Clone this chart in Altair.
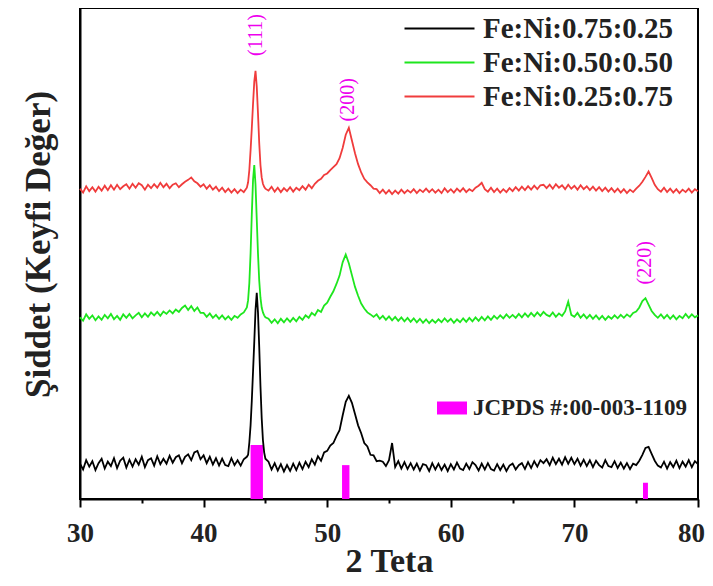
import altair as alt
import pandas as pd

# 2-theta sampling positions (degrees)
two_theta = [
    30.0, 30.25, 30.5, 30.75, 31.0, 31.25, 31.5, 31.75, 32.0, 32.25, 32.5, 32.75,
    33.0, 33.25, 33.5, 33.75, 34.0, 34.25, 34.5, 34.75, 35.0, 35.25, 35.5, 35.75,
    36.0, 36.25, 36.5, 36.75, 37.0, 37.25, 37.5, 37.75, 38.0, 38.25, 38.5, 38.75,
    39.0, 39.25, 39.5, 39.75, 40.0, 40.25, 40.5, 40.75, 41.0, 41.25, 41.5, 41.75,
    42.0, 42.25, 42.5, 42.75, 43.0, 43.25, 43.5,
    43.6, 43.7, 43.8, 43.9, 44.0, 44.1, 44.2, 44.3, 44.4, 44.5, 44.6, 44.7, 44.8, 44.9, 45.0,
    45.25, 45.5, 45.75,
    46.0, 46.25, 46.5, 46.75, 47.0, 47.25, 47.5, 47.75, 48.0, 48.25, 48.5, 48.75,
    49.0, 49.25, 49.5, 49.75, 50.0, 50.25, 50.5, 50.75, 51.0, 51.25, 51.5, 51.75,
    52.0, 52.25, 52.5, 52.75, 53.0, 53.25, 53.5, 53.75, 54.0, 54.25, 54.5, 54.75,
    55.0, 55.25, 55.5, 55.75, 56.0, 56.25, 56.5, 56.75, 57.0, 57.25, 57.5, 57.75,
    58.0, 58.25, 58.5, 58.75, 59.0, 59.25, 59.5, 59.75, 60.0, 60.25, 60.5, 60.75,
    61.0, 61.25, 61.5, 61.75, 62.0, 62.25, 62.5, 62.75, 63.0, 63.25, 63.5, 63.75,
    64.0, 64.25, 64.5, 64.75, 65.0, 65.25, 65.5, 65.75, 66.0, 66.25, 66.5, 66.75,
    67.0, 67.25, 67.5, 67.75, 68.0, 68.25, 68.5, 68.75, 69.0, 69.25, 69.5, 69.75,
    70.0, 70.25, 70.5, 70.75, 71.0, 71.25, 71.5, 71.75, 72.0, 72.25, 72.5, 72.75,
    73.0, 73.25, 73.5, 73.75, 74.0, 74.25, 74.5, 74.75, 75.0, 75.25, 75.5, 75.75,
    76.0, 76.25, 76.5, 76.75, 77.0, 77.25, 77.5, 77.75, 78.0, 78.25, 78.5, 78.75,
    79.0, 79.25, 79.5, 79.75, 80.0,
]

# Fe:Ni:0.75:0.25 (black, bottom)
black = [
    7.2, 6.0, 7.9, 6.6, 7.7, 5.9, 7.3, 8.2, 6.2, 7.6, 6.7, 8.3,
    6.3, 7.8, 8.4, 6.4, 8.0, 6.6, 8.1, 7.0, 8.6, 6.5, 7.9, 8.3,
    6.8, 8.7, 7.1, 8.2, 7.2, 8.8, 7.4, 8.5, 8.9, 7.3, 8.6, 9.1,
    7.9, 9.5, 9.8, 8.1, 8.9, 7.3, 8.6, 7.0, 8.3, 6.8, 8.2, 6.9,
    6.7, 8.3, 6.9, 7.9, 6.8, 8.1, 8.6,
    9.0, 11.5, 15.0, 20.0, 26.0, 32.0, 38.5, 42.0, 38.0, 31.0, 23.0, 16.5, 12.0, 9.5, 8.2,
    7.6, 6.0, 7.3,
    5.8, 7.1, 5.6, 6.9, 5.7, 7.2, 5.9, 7.4, 6.1, 7.6, 6.5, 8.1,
    7.0, 8.7, 7.8, 9.5, 9.8, 10.9, 11.4, 12.8, 14.0, 17.0, 19.8, 21.0,
    19.6, 17.3, 15.0, 13.4, 11.4, 10.7, 9.0, 8.9, 7.7, 7.8, 7.6, 6.7,
    7.9, 11.4, 6.5, 7.7, 6.2, 7.5, 6.1, 7.3, 6.0, 7.2, 5.8, 7.1,
    6.9, 5.7, 7.3, 6.0, 7.2, 5.9, 7.0, 5.7, 7.1, 6.0, 7.4, 6.2,
    5.9, 7.2, 6.1, 7.5, 6.9, 5.8, 7.2, 6.0, 7.3, 6.1, 5.8, 7.1,
    5.9, 7.0, 5.7, 6.8, 7.2, 6.0, 6.9, 7.3, 6.1, 7.5, 6.3, 7.7,
    6.6, 7.9, 7.3, 8.1, 6.9, 8.4, 7.1, 8.2, 7.0, 8.5, 7.2, 8.4,
    7.1, 8.2, 6.8, 8.0, 6.7, 7.9, 6.5, 7.8, 6.9, 6.4, 7.9, 6.7,
    6.5, 7.7, 6.3, 7.4, 6.2, 7.3, 6.1, 7.2, 6.9, 7.8, 9.0, 10.4,
    10.6, 9.2, 7.8, 6.8, 6.4, 7.6, 6.2, 7.5, 6.5, 7.8, 6.3, 7.6,
    6.6, 7.9, 6.5, 7.7, 7.1,
]

# Fe:Ni:0.50:0.50 (green, middle)
green = [
    37.0, 36.3, 37.6, 36.7, 37.4, 36.4, 37.2, 36.5, 37.5, 36.8, 37.7, 36.6,
    37.3, 36.5, 37.6, 36.9, 37.7, 36.8, 37.4, 37.9, 37.0, 37.8, 37.1, 38.0,
    37.4, 38.1, 37.3, 38.2, 37.7, 38.4, 37.8, 38.6, 38.1, 38.9, 39.4, 38.5,
    39.3, 38.3, 39.0, 37.9, 37.9, 37.1, 37.8, 36.9, 37.5, 36.7, 37.4, 36.6,
    37.2, 36.5, 37.3, 36.9, 37.6, 38.0, 39.0,
    40.5, 44.0, 50.0, 58.0, 65.0, 68.0, 64.0, 57.0, 50.0, 44.5, 41.0, 39.0, 38.0, 37.4, 37.0,
    36.7, 35.9, 36.6,
    35.8, 36.7, 36.0, 36.8, 36.1, 36.9, 36.2, 37.1, 36.5, 37.4, 36.9, 37.9,
    37.4, 38.5, 38.1, 39.4, 40.0, 41.2, 42.3, 43.8, 45.5, 48.2, 49.8, 48.0,
    45.6, 43.2, 41.4, 39.8, 38.8, 38.0, 37.6, 37.1, 37.6, 36.7, 37.3, 36.5,
    37.2, 36.4, 37.1, 36.3, 37.0, 36.2, 36.9, 36.1, 36.8, 36.0, 36.7, 35.9,
    36.6, 35.8, 36.5, 35.9, 36.6, 36.0, 36.8, 36.1, 36.7, 35.9, 36.6, 36.0,
    36.8, 36.1, 36.9, 36.2, 37.0, 36.3, 37.1, 36.4, 37.2, 36.5, 37.3, 36.7,
    37.4, 36.8, 37.6, 36.9, 37.5, 36.9, 37.7, 37.0, 37.8, 37.1, 37.9, 37.2,
    38.0, 37.3, 38.1, 37.5, 37.2, 38.0, 37.1, 37.8, 37.3, 38.2, 40.2, 37.5,
    37.1, 37.9, 36.9, 37.6, 36.8, 37.5, 36.7, 37.4, 36.6, 37.3, 36.5, 37.2,
    36.7, 37.4, 36.8, 37.5, 36.9, 37.6, 37.1, 37.9, 38.2, 39.0, 40.3, 40.9,
    39.6, 38.3, 37.5, 36.9, 37.6, 36.8, 37.5, 36.7, 37.4, 36.6, 37.3, 36.8,
    37.7, 36.9, 37.6, 37.0, 37.4,
]

# Fe:Ni:0.25:0.75 (red, top)
red = [
    63.2, 62.4, 63.7, 62.7, 63.5, 62.6, 63.6, 62.8, 63.8, 62.9, 63.9, 63.0,
    64.0, 63.1, 63.7, 64.1, 63.2, 64.2, 63.4, 64.3, 63.9, 63.0, 64.0, 63.3,
    64.1, 63.4, 64.4, 63.5, 64.2, 63.3, 64.0, 64.3, 63.5, 64.1, 64.6, 65.0,
    65.5, 64.7, 64.3, 63.6, 64.1, 63.2, 63.9, 63.0, 63.6, 62.7, 63.4, 62.5,
    63.2, 62.4, 63.1, 62.3, 63.0, 62.5, 63.4,
    64.5, 67.0, 71.0, 75.5, 80.5, 85.0, 87.2, 84.0, 78.5, 72.5, 68.0, 65.5, 64.2, 63.6, 63.2,
    62.8, 63.6, 62.6,
    63.4, 62.5, 63.3, 62.7, 63.5, 62.6, 63.4, 62.9, 63.7, 63.0, 64.0, 63.3,
    64.2, 64.8, 65.2, 66.0, 66.3, 67.0, 67.6, 68.2, 69.4, 71.5, 74.2, 75.6,
    73.0, 70.4, 68.2, 66.5, 65.2, 64.5, 63.9, 63.2, 63.1, 62.3, 63.0, 62.2,
    62.9, 62.1, 62.8, 62.2, 63.0, 62.3, 62.9, 62.4, 63.1, 62.3, 63.0, 62.5,
    63.2, 62.5, 63.1, 62.4, 63.0, 62.3, 63.3, 62.5, 63.1, 62.4, 63.2, 62.6,
    63.3, 62.5, 63.1, 62.7, 63.4, 63.8, 64.4, 63.1, 62.6, 63.4, 62.5, 63.2,
    62.4, 63.1, 62.5, 63.3, 62.7, 63.5, 62.8, 63.6, 62.9, 63.7, 63.0, 63.8,
    63.1, 63.9, 64.0, 63.3, 64.0, 63.2, 64.1, 63.4, 63.9, 63.1, 64.0, 63.2,
    63.8, 63.0, 63.9, 63.1, 63.7, 62.9, 63.6, 62.8, 63.5, 62.7, 63.4, 62.6,
    63.3, 62.5, 63.2, 62.4, 63.1, 62.3, 63.0, 62.5, 63.2, 63.8, 64.6, 65.6,
    66.7, 65.4, 64.0, 63.1, 62.6, 63.4, 62.5, 63.2, 62.4, 63.1, 62.3, 63.0,
    62.5, 63.2, 62.4, 63.1, 62.7,
]

series_names = ["Fe:Ni:0.75:0.25", "Fe:Ni:0.50:0.50", "Fe:Ni:0.25:0.75"]
series_colors = ["#000000", "#1ee61e", "#f03c3c"]

# JCPDS reference lines
jcpds_label = "JCPDS #:00-003-1109"
jcpds_pos = [44.3, 51.5, 75.75]
jcpds_width = [1.0, 0.6, 0.4]
jcpds_height = [11.0, 6.9, 3.3]

# Miller index annotations
hkl_labels = ["(111)", "(200)", "(220)"]
hkl_x = [44.2, 51.7, 75.7]
hkl_y = [94.5, 81.3, 48.1]

x_major = [30, 40, 50, 60, 70, 80]
x_minor = [35, 45, 55, 65, 75]

FONT = "Liberation Serif"

# long table, drawn red first so black ends on top
rows = []
for name, vals in [(series_names[2], red), (series_names[1], green), (series_names[0], black)]:
    for t, v in zip(two_theta, vals, strict=True):
        rows.append({"series": name, "theta": t, "intensity": v})
lines_df = pd.DataFrame(rows)

bars_df = pd.DataFrame({
    "label": [jcpds_label] * len(jcpds_pos),
    "pos": jcpds_pos,
    "w": jcpds_width,
    "h": jcpds_height,
})

hkl_df = pd.DataFrame({"txt": hkl_labels, "theta": hkl_x, "intensity": hkl_y})

x_scale = alt.Scale(domain=[30, 80], nice=False, zero=False)
y_scale = alt.Scale(domain=[0, 100], nice=False)

y_axis = alt.Axis(
    title="Şiddet (Keyfi Değer)", labels=False, ticks=False, grid=False,
    domain=True, domainWidth=2, domainColor="black",
    titleFont=FONT, titleFontSize=35, titleFontWeight="bold", titleColor="#222",
    titlePadding=24, titleY=236,
)

lines = alt.Chart(lines_df).mark_line(strokeWidth=1.8).encode(
    x=alt.X("theta:Q", scale=x_scale, axis=alt.Axis(
        values=x_major, orient="bottom", title="2 Teta", grid=False,
        tickSize=8, tickWidth=2, tickColor="black",
        domain=True, domainWidth=2, domainColor="black",
        labelFont=FONT, labelFontSize=27, labelFontWeight="bold", labelColor="#222",
        labelPadding=13, labelFlush=False,
        labelOffset={"condition": {"test": "datum.value == 80", "value": -7}, "value": 0},
        titleFont=FONT, titleFontSize=34, titleFontWeight="bold", titleColor="#222",
        titleBaseline="alphabetic", titleY=72,
    )),
    y=alt.Y("intensity:Q", scale=y_scale, axis=y_axis),
    stroke=alt.Stroke("series:N", scale=alt.Scale(domain=series_names, range=series_colors),
        legend=alt.Legend(
            title=None, orient="none", legendX=341, legendY=2,
            symbolType="M-2,0L2,0", symbolSize=1225, symbolStrokeWidth=2,
            labelFont=FONT, labelFontSize=29, labelFontWeight="bold", labelColor="#222",
            labelOffset=25, rowPadding=0, padding=0, labelLimit=400,
        )),
)

bars = alt.Chart(bars_df).mark_rect().transform_calculate(
    x0="datum.pos - datum.w / 2", x1="datum.pos + datum.w / 2"
).encode(
    x=alt.X("x0:Q", scale=x_scale, axis=alt.Axis(
        values=x_minor, orient="bottom", title=None, labels=False, grid=False,
        domain=False, tickSize=4, tickWidth=2, tickColor="black",
    )),
    x2="x1:Q",
    y=alt.Y("h:Q", scale=y_scale, axis=y_axis),
    y2=alt.datum(0),
    fill=alt.Fill("label:N", scale=alt.Scale(domain=[jcpds_label], range=["#ff00ff"]),
        legend=alt.Legend(
            title=None, orient="none", legendX=357, legendY=385,
            symbolType="M-1,-0.433L1,-0.433L1,0.433L-1,0.433Z", symbolSize=900,
            symbolStrokeWidth=0,
            labelFont=FONT, labelFontSize=23, labelFontWeight="bold", labelColor="#222",
            labelOffset=6, padding=0, labelLimit=400,
        )),
)

hkl = alt.Chart(hkl_df).mark_text(
    angle=270, align="center", baseline="middle", font=FONT, fontSize=20, color="#ee00ee"
).encode(
    x=alt.X("theta:Q", scale=x_scale, axis=None),
    y=alt.Y("intensity:Q", scale=y_scale, axis=y_axis),
    text="txt:N",
)

chart = alt.layer(bars, lines, hkl).resolve_axis(x="independent").properties(
    width=618, height=491,
    autosize=alt.AutoSizeParams(type="none"),
    padding={"left": 72, "top": 0, "right": 7, "bottom": 80},
    background="white",
).configure_view(stroke="black", strokeWidth=2)

chart.save("out.html", embed_options={"renderer": "svg", "actions": False})
